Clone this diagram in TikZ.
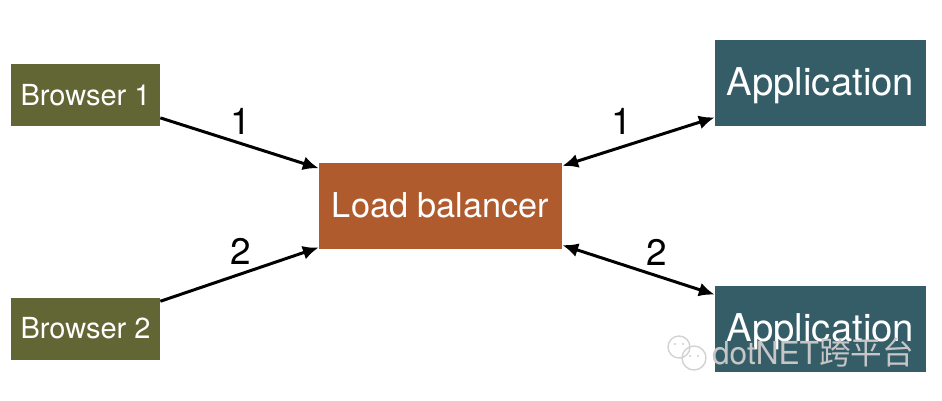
\documentclass[tikz,border=0pt]{standalone}
\usepackage{fontspec}
\setmainfont{TeX Gyre Heros}
\newfontfamily\cjkfont{Noto Sans CJK SC}
\usetikzlibrary{arrows.meta,positioning}
\definecolor{browser}{HTML}{626634}
\definecolor{balancer}{HTML}{AF5B2E}
\definecolor{app}{HTML}{355D68}
\tikzset{
  box/.style={draw=none,text=white,inner sep=0pt,align=center},
  client/.style={box,fill=browser,minimum width=2.98cm,minimum height=1.24cm,
    font=\fontsize{16.5}{18}\selectfont},
  lb/.style={box,fill=balancer,minimum width=4.86cm,minimum height=1.72cm,
    font=\fontsize{19.5}{22}\selectfont},
  server/.style={box,fill=app,minimum width=4.22cm,minimum height=1.72cm,
    font=\fontsize{21.8}{24}\selectfont,text depth=0.3ex},
  num/.style={font=\fontsize{21}{24}\selectfont,inner sep=0pt},
  link/.style={line width=1.7pt,-{Latex[length=9pt,width=8pt]}},
  both/.style={line width=1.7pt,{Latex[length=9pt,width=8pt]}-{Latex[length=9pt,width=8pt]}},
}

\begin{document}
\begin{tikzpicture}[x=0.02cm,y=-0.02cm]
      \useasboundingbox (0,0) rectangle (942,400);
      \path
      (85.5,95) node[client](b1) {Browser 1}
      (85.5,328.5) node[client](b2) {Browser 2}
      (440.5,205.5) node[lb](lb) {Load balancer}
      (820.5,83) node[server](a1) {Application}
      (820.5,329) node[server](a2) {Application}
      (241,121) node[num](l1) {1}
      (241,251) node[num](l2) {2}
      (622,121) node[num](r1) {1}
      (657,252) node[num](r2) {2}
      ;

      \draw[link] (b1.-17) -- (lb.163);
      \draw[link] (b2.20) -- (lb.199);
      \draw[both] (lb.18) -- (a1.198);
      \draw[both] (lb.-18) -- (a2.162);

      % watermark
      \path (813,352) node[text=gray!45,inner sep=0pt,font=\fontsize{18}{20}\selectfont](wm) {dotNET{\cjkfont 跨平台}};
      \draw[gray!35,line width=0.8pt] (679,347) circle (11) (694,358) circle (12);
      \fill[gray!40] (675,344) circle (1.2) (683,344) circle (1.2) (690,356) circle (1.2) (698,356) circle (1.2);
    \end{tikzpicture}
\end{document}
